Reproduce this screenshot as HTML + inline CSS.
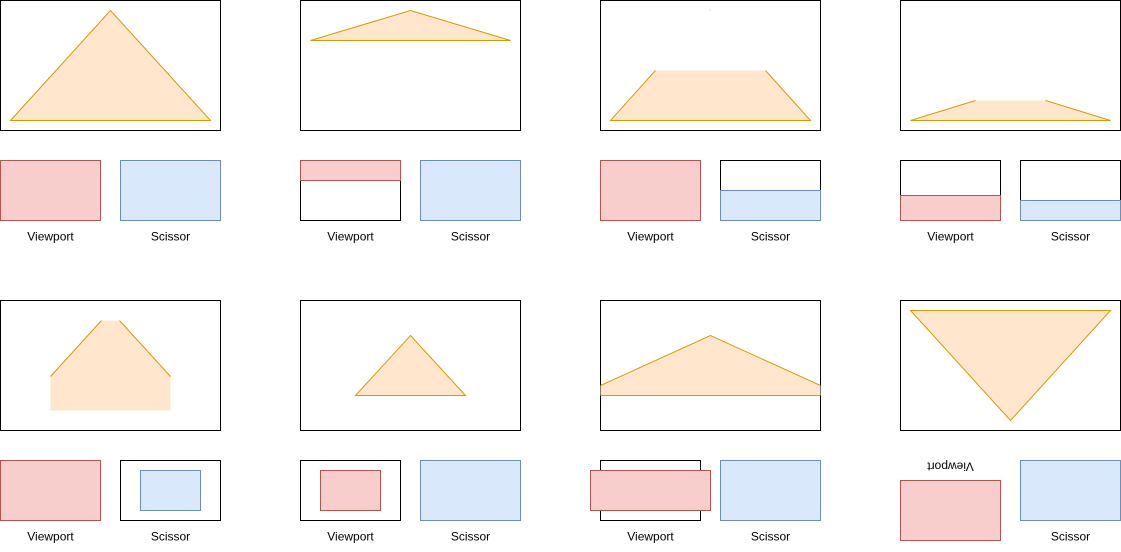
<!DOCTYPE html>
<html><head><meta charset="utf-8"><style>
html,body{margin:0;padding:0;background:#fff;}
svg{display:block;}
text{font-family:"Liberation Sans",Arial,sans-serif;font-size:12px;fill:#000;text-anchor:middle;}
.box{fill:#fff;stroke:#000;stroke-width:1;}
.tri{fill:#ffe6cc;stroke:#d79b00;stroke-width:1;}
.trif{fill:#ffe6cc;stroke:none;}
.edge{fill:none;stroke:#d79b00;stroke-width:1;}
.red{fill:#f8cecc;stroke:#b85450;}
.blue{fill:#dae8fc;stroke:#6c8ebf;}
.white{fill:#fff;stroke:#000;}
</style></head><body>
<svg width="1121" height="552" viewBox="0 0 1121 552">
<g transform="translate(0.5,0.5)">
<!-- Panel 1 -->
<g>
<rect class="box" x="0" y="0" width="220" height="130"/>
<polygon class="tri" points="10,120 110,10 210,120"/>
<rect class="red" x="0" y="160" width="100" height="60"/>
<rect class="blue" x="120" y="160" width="100" height="60"/>
<text x="50" y="240">Viewport</text>
<text x="170" y="240">Scissor</text>
</g>
<!-- Panel 2 -->
<g>
<rect class="box" x="300" y="0" width="220" height="130"/>
<polygon class="tri" points="310,40 410,10 510,40"/>
<rect class="white" x="300" y="160" width="100" height="60"/>
<rect class="red" x="300" y="160" width="100" height="20"/>
<rect class="blue" x="420" y="160" width="100" height="60"/>
<text x="350" y="240">Viewport</text>
<text x="470" y="240">Scissor</text>
</g>
<!-- Panel 3 -->
<g>
<rect class="box" x="600" y="0" width="220" height="130"/>
<polygon class="trif" points="610,120 655,70 765,70 810,120"/>
<polyline class="edge" points="655,70 610,120 810,120 765,70"/>
<rect x="709" y="9" width="1" height="1" fill="#e8c48a"/>
<rect class="red" x="600" y="160" width="100" height="60"/>
<rect class="white" x="720" y="160" width="100" height="60"/>
<rect class="blue" x="720" y="190" width="100" height="30"/>
<text x="650" y="240">Viewport</text>
<text x="770" y="240">Scissor</text>
</g>
<!-- Panel 4 -->
<g>
<rect class="box" x="900" y="0" width="220" height="130"/>
<polygon class="trif" points="910,120 975,100 1045,100 1110,120"/>
<polyline class="edge" points="975,100 910,120 1110,120 1045,100"/>
<rect class="white" x="900" y="160" width="100" height="60"/>
<rect class="red" x="900" y="195" width="100" height="25"/>
<rect class="white" x="1020" y="160" width="100" height="60"/>
<rect class="blue" x="1020" y="200" width="100" height="20"/>
<text x="950" y="240">Viewport</text>
<text x="1070" y="240">Scissor</text>
</g>
<!-- Panel 5 -->
<g>
<rect class="box" x="0" y="300" width="220" height="130"/>
<polygon class="trif" points="50,410 50,376 101,320 119,320 170,376 170,410"/>
<polyline class="edge" points="50,376 101,320"/>
<polyline class="edge" points="119,320 170,376"/>
<rect class="red" x="0" y="460" width="100" height="60"/>
<rect class="white" x="120" y="460" width="100" height="60"/>
<rect class="blue" x="140" y="470" width="60" height="40"/>
<text x="50" y="540">Viewport</text>
<text x="170" y="540">Scissor</text>
</g>
<!-- Panel 6 -->
<g>
<rect class="box" x="300" y="300" width="220" height="130"/>
<polygon class="tri" points="355,395 410,335 465,395"/>
<rect class="white" x="300" y="460" width="100" height="60"/>
<rect class="red" x="320" y="470" width="60" height="40"/>
<rect class="blue" x="420" y="460" width="100" height="60"/>
<text x="350" y="540">Viewport</text>
<text x="470" y="540">Scissor</text>
</g>
<!-- Panel 7 -->
<g>
<rect class="box" x="600" y="300" width="220" height="130"/>
<polygon class="trif" points="600,395 600,385 710,335 820,385 820,395"/>
<polyline class="edge" points="600,385 710,335 820,385"/>
<line x1="600" y1="395" x2="820" y2="395" stroke="#d79b00"/>
<rect class="white" x="600" y="460" width="100" height="60"/>
<rect class="red" x="590" y="470" width="120" height="40"/>
<rect class="blue" x="720" y="460" width="100" height="60"/>
<text x="650" y="540">Viewport</text>
<text x="770" y="540">Scissor</text>
</g>
<!-- Panel 8 -->
<g>
<rect class="box" x="900" y="300" width="220" height="130"/>
<polygon class="tri" points="910,310 1110,310 1010,420"/>
<rect class="red" x="900" y="480" width="100" height="60"/>
<rect class="blue" x="1020" y="460" width="100" height="60"/>
<text transform="translate(950,462) rotate(180)" x="0" y="0">Viewport</text>
<text x="1070" y="540">Scissor</text>
</g>
</g>
</svg>
</body></html>
